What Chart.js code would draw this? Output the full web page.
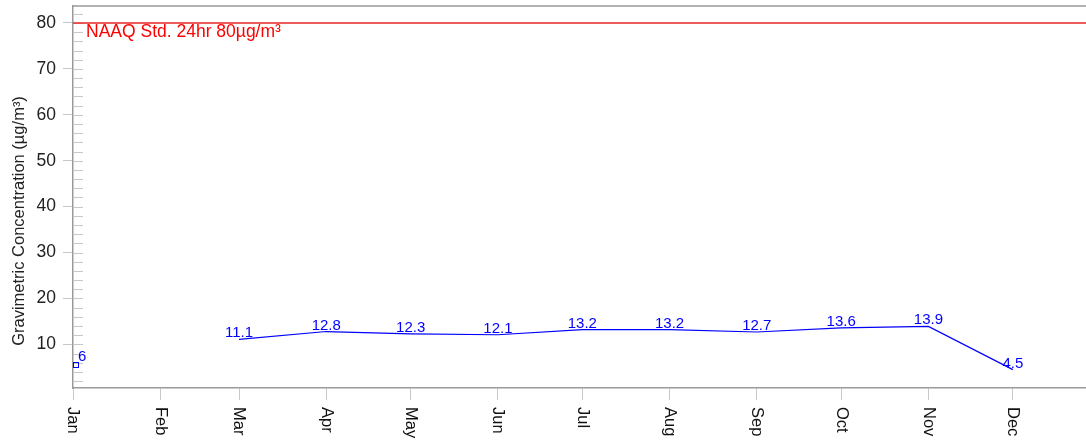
<!DOCTYPE html>
<html>
<head>
<meta charset="utf-8">
<script src="https://cdn.jsdelivr.net/npm/chart.js@4/dist/chart.umd.min.js"></script>
<style>
  html, body { margin: 0; padding: 0; background: #fff; }
  canvas { display: block; }
</style>
</head>
<body>
<canvas id="chart" width="1086" height="442"></canvas>
<script>
// Dados do gráfico
const months = ["Jan", "Feb", "Mar", "Apr", "May", "Jun", "Jul", "Aug", "Sep", "Oct", "Nov", "Dec"];
const monthStartDays = [0, 31, 59, 90, 120, 151, 181, 212, 243, 273, 304, 334];
const concentration = [6, null, 11.1, 12.8, 12.3, 12.1, 13.2, 13.2, 12.7, 13.6, 13.9, 4.5];
const yTicks = [2, 4, 6, 8, 10, 12, 14, 16, 18, 20, 22, 24, 26, 28, 30, 32, 34, 36, 38, 40,
  42, 44, 46, 48, 50, 52, 54, 56, 58, 60, 62, 64, 66, 68, 70, 72, 74, 76, 78, 80, 82];
const standardValue = 80;
const standardLabel = "NAAQ Std. 24hr 80µg/m³";
const yTitle = "Gravimetric Concentration (µg/m³)";

const FONT = '"Liberation Sans", Arial, Helvetica, sans-serif';
const axisColor = "#9a9a9a";
const tickColor = "#c8c8c8";

const points = monthStartDays.map((d, i) => ({ x: d, y: concentration[i] }));

// Ponto sem vizinhos (não aparece na linha)
function isolated(i) {
  const prev = i > 0 ? concentration[i - 1] : null;
  const next = i < concentration.length - 1 ? concentration[i + 1] : null;
  return concentration[i] != null && prev == null && next == null;
}

// Plugin para bordas, linha de referência, rótulos e título
const extras = {
  id: "extras",
  beforeDatasetsDraw(chart) {
    const { ctx, chartArea } = chart;
    const y = chart.scales.y;
    ctx.save();
    // borda superior
    ctx.strokeStyle = axisColor;
    ctx.lineWidth = 1.5;
    ctx.beginPath();
    ctx.moveTo(chartArea.left, chartArea.top);
    ctx.lineTo(chartArea.right, chartArea.top);
    ctx.stroke();
    // ticks internos do eixo y
    ctx.strokeStyle = tickColor;
    ctx.lineWidth = 1;
    yTicks.forEach((v) => {
      const py = Math.round(y.getPixelForValue(v)) + 0.5;
      ctx.beginPath();
      ctx.moveTo(chartArea.left, py);
      ctx.lineTo(chartArea.left + 10, py);
      ctx.stroke();
    });
    // linha do padrão NAAQ
    const sy = y.getPixelForValue(standardValue);
    ctx.strokeStyle = "#e82424";
    ctx.lineWidth = 1.5;
    ctx.beginPath();
    ctx.moveTo(chartArea.left, sy);
    ctx.lineTo(chartArea.right, sy);
    ctx.stroke();
    ctx.fillStyle = "#ff0000";
    ctx.font = "17.5px " + FONT;
    ctx.textAlign = "left";
    ctx.textBaseline = "alphabetic";
    ctx.fillText(standardLabel, chartArea.left + 13, sy + 14.5);
    ctx.restore();
  },
  afterDatasetsDraw(chart) {
    const { ctx, chartArea } = chart;
    const x = chart.scales.x;
    const y = chart.scales.y;
    ctx.save();
    // marcador quadrado dos pontos isolados
    ctx.strokeStyle = "#0000ff";
    ctx.lineWidth = 1;
    concentration.forEach((v, i) => {
      if (!isolated(i)) return;
      const px = Math.round(x.getPixelForValue(monthStartDays[i]));
      const py = Math.round(y.getPixelForValue(v));
      ctx.strokeRect(px + 0.5, py - 0.5, 5, 5);
    });
    // rótulos dos valores
    ctx.fillStyle = "#0000ff";
    ctx.font = "15px " + FONT;
    ctx.textAlign = "center";
    ctx.textBaseline = "alphabetic";
    concentration.forEach((v, i) => {
      if (v == null) return;
      const txt = String(v);
      const w = ctx.measureText(txt).width;
      let px = x.getPixelForValue(monthStartDays[i]);
      px = Math.max(px, chartArea.left + 5 + w / 2);
      ctx.fillText(txt, px, y.getPixelForValue(v) - 2);
    });
    // rótulos do eixo x, rodados 90°
    ctx.fillStyle = "#111";
    ctx.font = "16.5px " + FONT;
    ctx.textAlign = "left";
    ctx.textBaseline = "middle";
    months.forEach((m, i) => {
      const px = x.getPixelForValue(monthStartDays[i]);
      ctx.save();
      ctx.translate(px, chartArea.bottom + 19);
      ctx.rotate(Math.PI / 2);
      ctx.fillText(m, 0, 0);
      ctx.restore();
    });
    // título do eixo y
    ctx.font = "16.5px " + FONT;
    ctx.fillStyle = "#222";
    ctx.textAlign = "center";
    ctx.textBaseline = "middle";
    ctx.translate(19, chart.height / 2);
    ctx.rotate(-Math.PI / 2);
    ctx.fillText(yTitle, 0, 0);
    ctx.restore();
  },
};

new Chart(document.getElementById("chart"), {
  type: "line",
  data: {
    datasets: [
      {
        data: points,
        borderColor: "#0000ff",
        borderWidth: 1.2,
        tension: 0,
        spanGaps: false,
        pointRadius: 0,
        pointHoverRadius: 0,
      },
    ],
  },
  options: {
    responsive: false,
    devicePixelRatio: 1,
    animation: false,
    layout: { padding: { top: 6, right: 0, bottom: 42, left: 0 } },
    plugins: {
      legend: { display: false },
      tooltip: { enabled: false },
    },
    scales: {
      x: {
        type: "linear",
        min: 0,
        max: 360,
        afterBuildTicks: (scale) => {
          scale.ticks = monthStartDays.map((d) => ({ value: d }));
        },
        ticks: { display: false },
        grid: { drawOnChartArea: false, tickLength: 12, color: tickColor },
        border: { color: axisColor, width: 1.5 },
      },
      y: {
        min: 0.5,
        max: 83.7,
        afterBuildTicks: (scale) => {
          scale.ticks = yTicks.map((v) => ({ value: v }));
        },
        afterFit: (scale) => {
          scale.width = 73;
          scale.paddingTop = 0;
          scale.paddingBottom = 0;
        },
        ticks: {
          autoSkip: false,
          padding: 7,
          color: "#222",
          font: { family: FONT, size: 17.5 },
          callback: (v) => (v % 10 === 0 ? v : ""),
        },
        grid: {
          drawOnChartArea: false,
          tickLength: 10,
          color: (ctx) => (ctx.tick && ctx.tick.value % 10 === 0 ? tickColor : "rgba(0,0,0,0)"),
        },
        border: { color: axisColor, width: 1.5 },
      },
    },
  },
  plugins: [extras],
});
</script>
</body>
</html>
